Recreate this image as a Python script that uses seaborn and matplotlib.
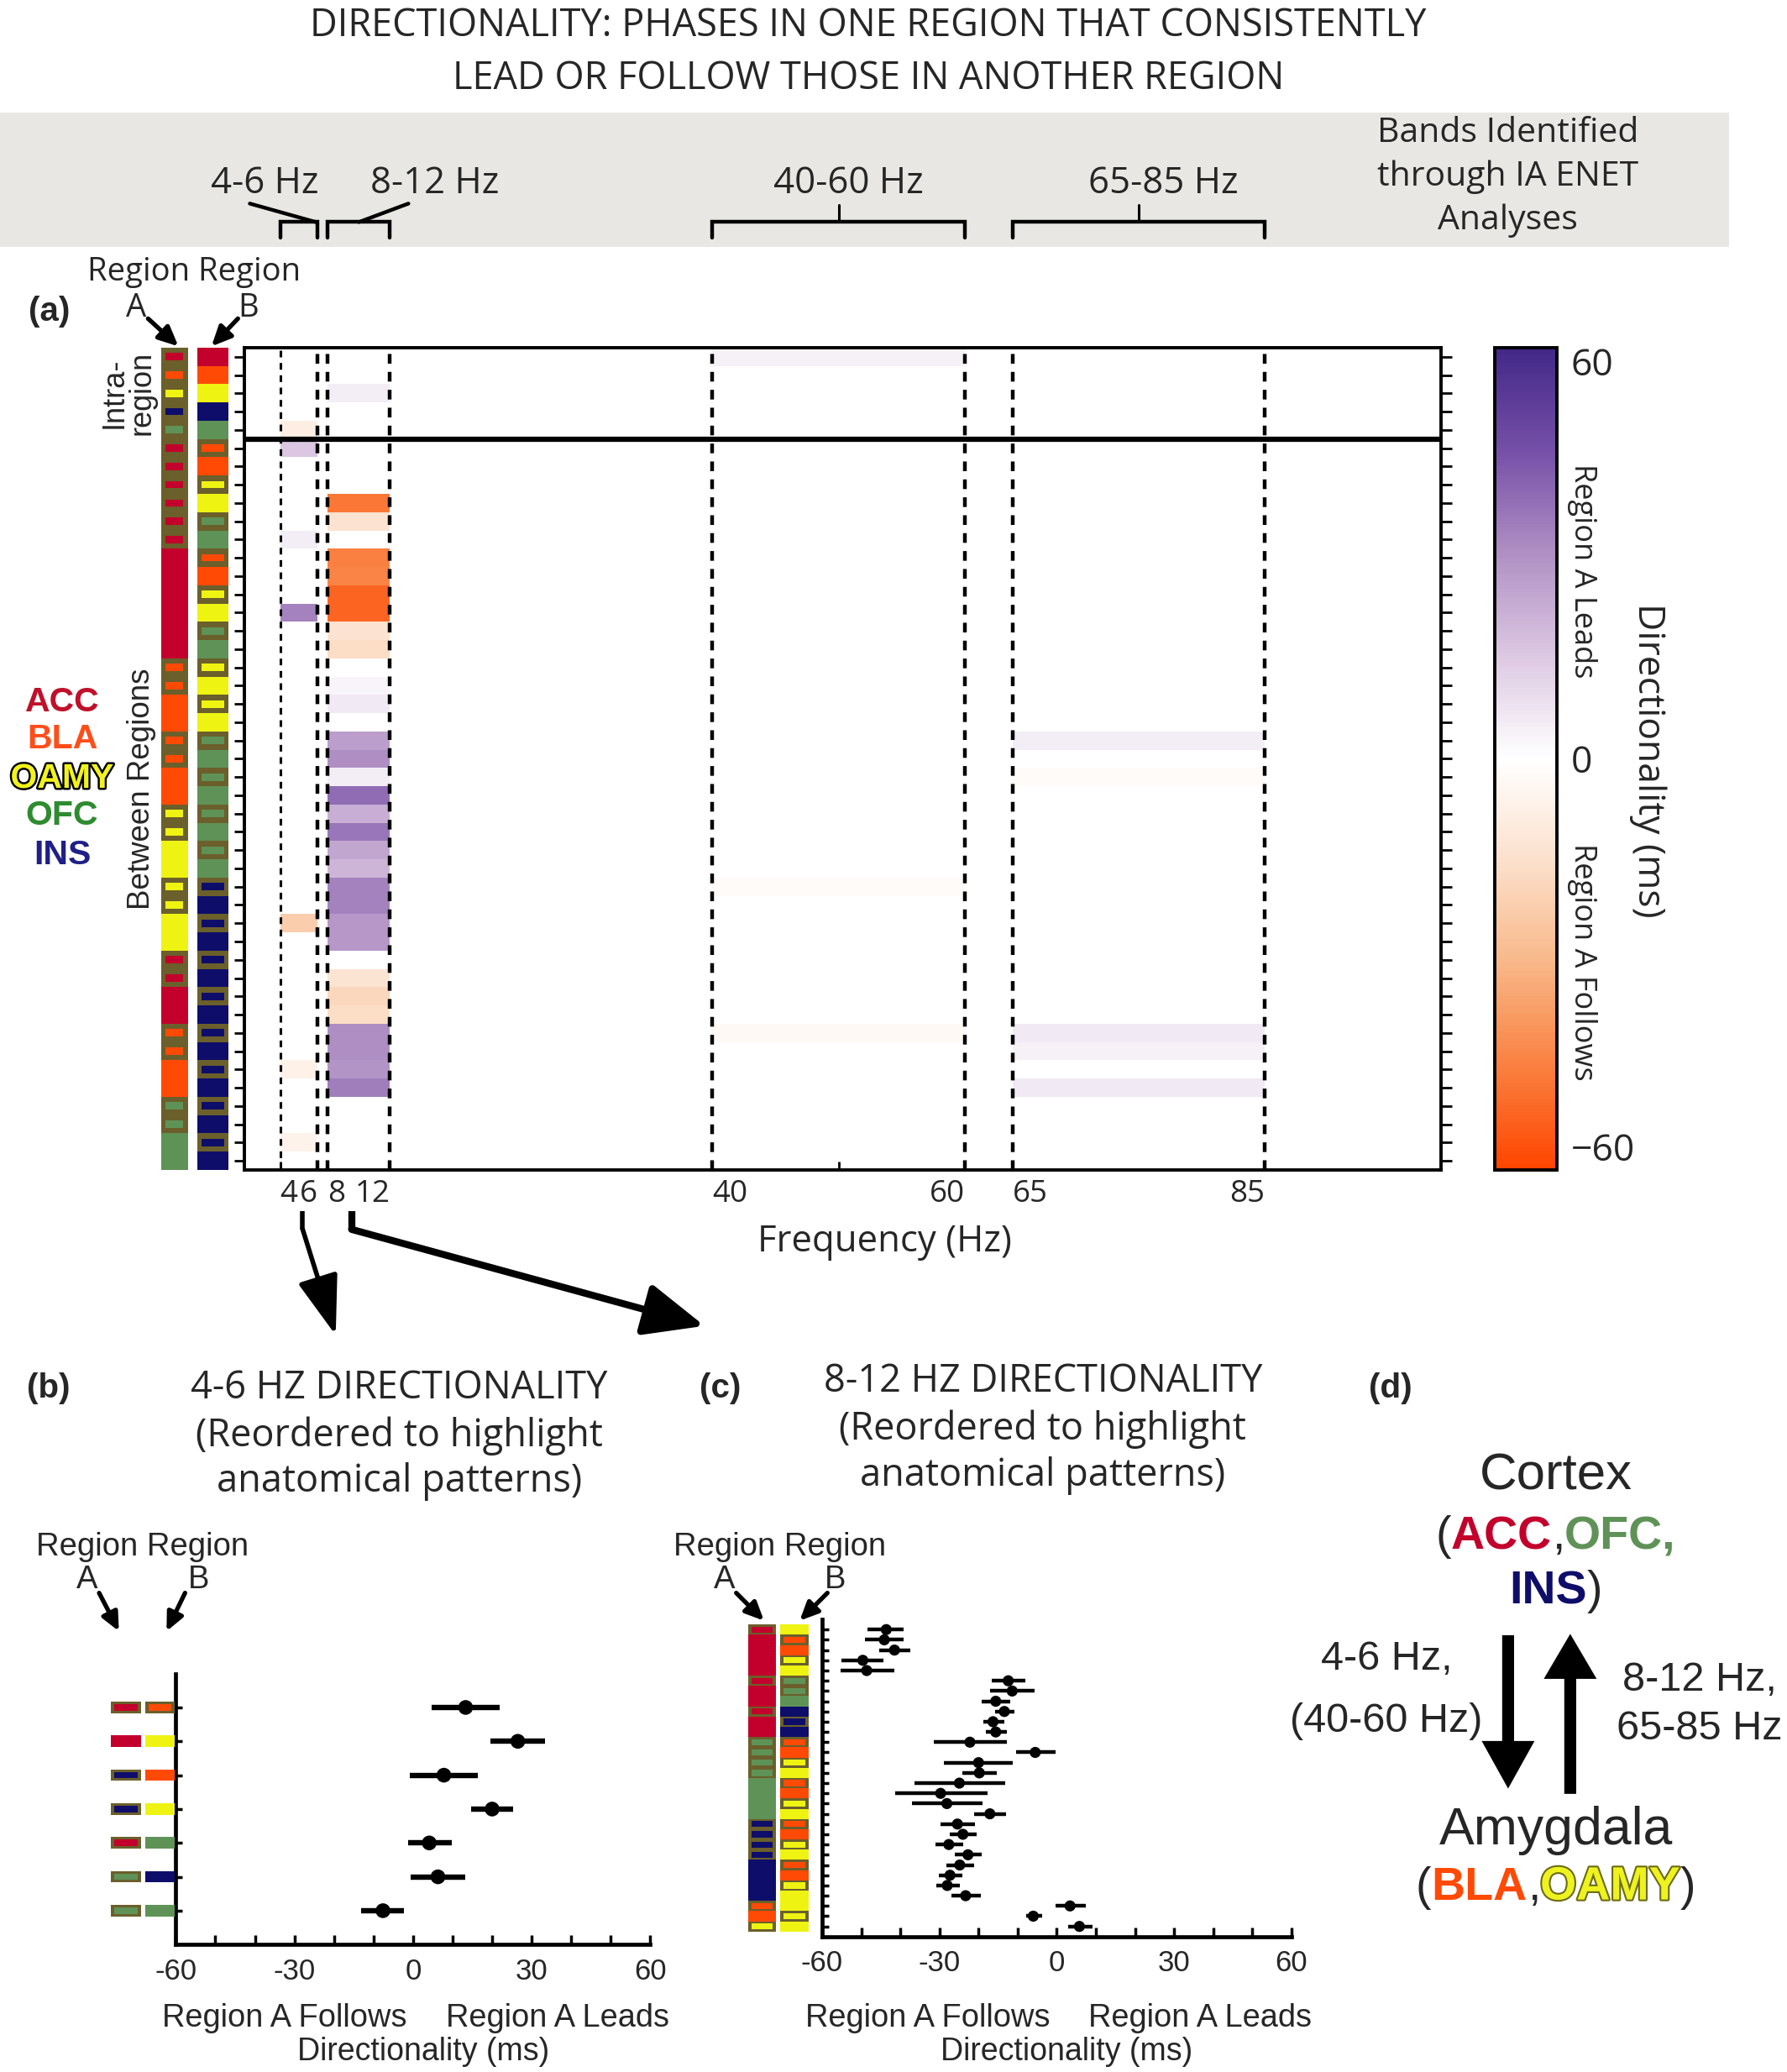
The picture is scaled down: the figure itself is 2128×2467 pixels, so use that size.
import numpy as np
import pandas as pd
import matplotlib
matplotlib.use("Agg")
import matplotlib.pyplot as plt
import seaborn as sns
from matplotlib.colors import LinearSegmentedColormap, Normalize
from matplotlib.cm import ScalarMappable
from matplotlib.patches import Rectangle, FancyArrowPatch, FancyArrow, ArrowStyle
import matplotlib.patheffects as pe

nan = np.nan

# ---------------------------------------------------------------- data
band_labels = ["4-6 Hz", "8-12 Hz", "40-60 Hz", "65-85 Hz"]
band_lo = [4, 8, 40, 65]
band_hi = [6, 12, 60, 85]
freq_ticks = [4, 6, 8, 12, 40, 50, 60, 65, 85]
freq_ticklabels = ["4", "6", "8", "12", "40", "", "60", "65", "85"]

# panel (a): region pairs (L = outlined box, R = solid)
pairs_a_A = ["ACC-L", "BLA-L", "OAMY-L", "INS-L", "OFC-L",
             "ACC-L", "ACC-L", "ACC-L", "ACC-L", "ACC-L", "ACC-L",
             "ACC-R", "ACC-R", "ACC-R", "ACC-R", "ACC-R", "ACC-R",
             "BLA-L", "BLA-L", "BLA-R", "BLA-R", "BLA-L", "BLA-L", "BLA-R", "BLA-R",
             "OAMY-L", "OAMY-L", "OAMY-R", "OAMY-R", "OAMY-L", "OAMY-L", "OAMY-R", "OAMY-R",
             "ACC-L", "ACC-L", "ACC-R", "ACC-R", "BLA-L", "BLA-L", "BLA-R", "BLA-R",
             "OFC-L", "OFC-L", "OFC-R", "OFC-R"]
pairs_a_B = ["ACC-R", "BLA-R", "OAMY-R", "INS-R", "OFC-R",
             "BLA-L", "BLA-R", "OAMY-L", "OAMY-R", "OFC-L", "OFC-R",
             "BLA-L", "BLA-R", "OAMY-L", "OAMY-R", "OFC-L", "OFC-R",
             "OAMY-L", "OAMY-R", "OAMY-L", "OAMY-R",
             "OFC-L", "OFC-R", "OFC-L", "OFC-R", "OFC-L", "OFC-R", "OFC-L", "OFC-R",
             "INS-L", "INS-R", "INS-L", "INS-R", "INS-L", "INS-R", "INS-L", "INS-R",
             "INS-L", "INS-R", "INS-L", "INS-R", "INS-L", "INS-R", "INS-L", "INS-R"]
n_intra = 5

# directionality (ms) per row, per band
dir_4_6 = [nan, nan, nan, nan, -8, 15, nan, nan, nan, nan,
           5, nan, nan, nan, 33, nan, nan, nan, nan, nan,
           nan, nan, nan, nan, nan, nan, nan, nan, nan, nan,
           nan, -22, nan, nan, nan, nan, nan, nan, nan, -7,
           nan, nan, nan, -6, nan]
dir_8_12 = [nan, nan, 5, nan, nan, nan, nan, nan, -47, -14,
            nan, -45, -44, -52, -52, -14, -16, nan, 3, 6,
            nan, 26, 30, 5, 38, 22, 36, 24, 20, 33,
            33, 28, 28, nan, -13, -18, -16, 30, 30, 29,
            34, nan, nan, nan, nan]
dir_40_60 = [4, nan, nan, nan, nan, nan, nan, nan, nan, nan,
             nan, nan, nan, nan, nan, nan, nan, nan, nan, nan,
             nan, nan, nan, nan, nan, nan, nan, nan, nan, -2,
             nan, nan, nan, nan, nan, nan, nan, -3, nan, nan,
             nan, nan, nan, nan, nan]
dir_65_85 = [nan, nan, nan, nan, nan, nan, nan, nan, nan, nan,
             nan, nan, nan, nan, nan, nan, nan, nan, nan, nan,
             nan, 5, nan, -2, nan, nan, nan, nan, nan, nan,
             nan, nan, nan, nan, nan, nan, nan, 6, 4, nan,
             6, nan, nan, nan, nan]
band_values = [dir_4_6, dir_8_12, dir_40_60, dir_65_85]

# panel (b): 4-6 Hz
b_A = ["ACC-L", "ACC-R", "INS-L", "INS-L", "ACC-L", "OFC-L", "OFC-L"]
b_B = ["BLA-L", "OAMY-R", "BLA-R", "OAMY-R", "OFC-R", "INS-R", "OFC-R"]
b_mean = [13.3, 26.5, 7.8, 20.0, 4.1, 6.3, -7.6]
b_lo = [4.7, 19.6, -0.8, 14.6, -1.2, -0.7, -13.1]
b_hi = [22.0, 33.4, 16.3, 25.4, 9.7, 13.3, -2.3]

# panel (c): 8-12 Hz
c_A = ["ACC-L", "ACC-R", "ACC-R", "ACC-R", "ACC-R", "ACC-L", "ACC-R", "ACC-R",
       "ACC-L", "ACC-R", "ACC-R", "OFC-L", "OFC-L", "OFC-L", "OFC-L", "OFC-R",
       "OFC-R", "OFC-R", "OFC-R", "INS-L", "INS-L", "INS-L", "INS-L", "INS-R",
       "INS-R", "INS-R", "INS-R", "BLA-L", "BLA-R", "OAMY-L"]
c_B = ["OAMY-R", "BLA-L", "BLA-R", "OAMY-L", "OAMY-R", "OFC-L", "OFC-L", "OFC-R",
       "INS-R", "INS-L", "INS-R", "BLA-L", "BLA-R", "OAMY-L", "OAMY-R", "BLA-L",
       "BLA-R", "OAMY-L", "OAMY-R", "BLA-L", "BLA-R", "OAMY-L", "OAMY-R", "BLA-L",
       "BLA-R", "OAMY-L", "OAMY-R", "OAMY-R", "OAMY-L", "OAMY-R"]
c_mean = [-43.6, -44.1, -41.5, -49.6, -48.6, -12.4, -11.4, -15.6, -13.4, -16.3,
          -15.6, -22.2, -5.5, -20.0, -19.8, -24.9, -29.7, -28.1, -17.1, -25.4,
          -24.0, -27.6, -22.7, -24.8, -27.3, -28.0, -23.3, 3.4, -6.0, 5.8]
c_lo = [-48.3, -49.0, -45.4, -55.0, -55.3, -16.6, -17.1, -19.1, -15.7, -18.8,
        -18.1, -31.5, -10.4, -28.9, -24.2, -36.3, -41.4, -37.1, -21.2, -29.8,
        -27.4, -31.1, -26.1, -28.3, -30.1, -30.7, -26.9, -0.3, -7.8, 2.9]
c_hi = [-39.2, -39.2, -37.5, -44.3, -41.6, -8.0, -5.6, -11.9, -10.9, -13.5,
        -12.7, -12.7, -0.3, -11.3, -15.4, -13.2, -17.8, -18.9, -12.9, -20.9,
        -20.4, -24.0, -19.2, -21.1, -24.1, -24.7, -19.4, 7.5, -3.8, 9.1]

dir_ticks = [-60, -30, 0, 30, 60]
dir_ticklabels = ["-60", "-30", "0", "30", "60"]
cbar_ticks = [-60, -30, 0, 30, 60]
cbar_ticklabels = ["\u221260", "", "0", "", "60"]
legend_regions = ["ACC", "BLA", "OAMY", "OFC", "INS"]

# ---------------------------------------------------------------- style
sns.set_theme(style="white")
plt.rcParams["font.family"] = ["Open Sans", "DejaVu Sans"]
ARIAL = ["Liberation Sans", "DejaVu Sans"]

REGION_COLORS = {"ACC": "#C2002B", "BLA": "#FF4A06", "OAMY": "#EEF312",
                 "OFC": "#5F9257", "INS": "#0E0E6A"}
TEXT_COLORS = {"ACC": "#C0102A", "BLA": "#FF4D1A", "OAMY": "#F2F21E",
               "OFC": "#2E8B30", "INS": "#1F1F88"}
OLIVE = "#6B5F2B"
cmap = LinearSegmentedColormap.from_list(
    "dir", [(0.0, "#FF4500"), (0.125, "#F98040"), (0.25, "#F8B788"), (0.375, "#FCE0CC"),
            (0.5, "#FFFFFF"), (0.625, "#DCC8E2"), (0.75, "#B090C4"), (0.875, "#7650A8"),
            (1.0, "#432888")])
norm = Normalize(-60, 60)

W, H = 1352.0, 1567.4
fig = plt.figure(figsize=(21.28, 24.67), dpi=100)


def box(x0, y0, x1, y1):
    return [x0 / W, 1 - y1 / H, (x1 - x0) / W, (y1 - y0) / H]


def draw_strip(ax, codes, height, ix, iy):
    for y, code in enumerate(codes, start=1):
        region, side = code.split("-")
        col = REGION_COLORS[region]
        if side == "L":
            ax.add_patch(Rectangle((0, y - height / 2), 1, height, fc=OLIVE, ec="none"))
            ax.add_patch(Rectangle((ix, y - height / 2 + height * iy), 1 - 2 * ix,
                                   height * (1 - 2 * iy), fc=col, ec="none"))
        else:
            ax.add_patch(Rectangle((0, y - height / 2), 1, height, fc=col, ec="none"))
    ax.set_xlim(0, 1)
    ax.set_facecolor("none")
    ax.axis("off")


# overlay canvas in reference pixel units
ov = fig.add_axes([0, 0, 1, 1], zorder=-10)
ov.set_xlim(0, W)
ov.set_ylim(H, 0)
ov.axis("off")

# ---------------------------------------------------------------- panel (a)
knots_hz = [1, 4, 6, 8, 12, 40, 60, 65, 85, 100]
knots_px = [185, 212, 240, 248, 295, 539, 730, 766, 957, 1090]


def fwd(x):
    return np.interp(x, knots_hz, knots_px)


def inv(y):
    return np.interp(y, knots_px, knots_hz)


n_rows = len(pairs_a_A)
ax_a = fig.add_axes(box(185, 263, 1090, 885))
ax_a.set_xscale("function", functions=(fwd, inv))
ax_a.set_xlim(1, 100)
ax_a.set_ylim(n_rows + 0.5, 0.5)
for lo, hi, vals in zip(band_lo, band_hi, band_values):
    C = np.ma.masked_invalid(np.array(vals, float)).reshape(-1, 1)
    ax_a.pcolormesh([lo, hi], np.arange(0.5, n_rows + 1), C, cmap=cmap, norm=norm,
                    shading="flat", zorder=1)
for f in band_lo + band_hi:
    ax_a.axvline(f, color="black", lw=2.2 if f == 4 else 3.2,
                 ls=(0, (2.6, 2.2)), zorder=2)
ax_a.axhline(n_intra + 0.5, color="black", lw=4.5, zorder=3)
for s in ax_a.spines.values():
    s.set_visible(True)
    s.set_color("black")
    s.set_linewidth(2.8)
ax_a.set_yticks(np.arange(1, n_rows + 1))
ax_a.set_yticklabels([])
ax_a.tick_params(axis="y", which="both", left=True, right=True, direction="out",
                 length=9, width=2, color="black")
ax_a.set_xticks(freq_ticks)
ax_a.set_xticklabels(freq_ticklabels)
ax_a.xaxis.set_minor_locator(matplotlib.ticker.NullLocator())
ax_a.tick_params(axis="x", which="both", bottom=True, top=False, direction="in",
                 length=7, width=2, color="black", labelsize=26.5, pad=8)
for lab, t in zip(ax_a.get_xticklabels(), freq_ticks):
    lab.set_ha("left" if t in band_lo else "right")
ax_a.set_xlabel("Frequency (Hz)", fontsize=31.5, labelpad=12, x=(669 - 185) / 905)

# region strips
ax_sA = fig.add_axes(box(122, 263, 142, 885))
ax_sA.set_ylim(n_rows + 0.5, 0.5)
draw_strip(ax_sA, pairs_a_A, 1.0, 0.17, 0.3)
ax_sB = fig.add_axes(box(149, 263, 173, 885))
ax_sB.set_ylim(n_rows + 0.5, 0.5)
draw_strip(ax_sB, pairs_a_B, 1.0, 0.15, 0.3)

# colorbar
cax = fig.add_axes(box(1131, 263, 1178, 885))
cb = fig.colorbar(ScalarMappable(norm=norm, cmap=cmap), cax=cax)
cb.outline.set_linewidth(2.8)
cb.outline.set_edgecolor("black")
cax.set_yticks(cbar_ticks)
cax.set_yticklabels(cbar_ticklabels)
cax.tick_params(axis="y", left=True, right=True, direction="in", length=9, width=2,
                color="black", labelleft=False, labelright=True, labelsize=32, pad=12)
for lab, t in zip(cax.get_yticklabels(), cbar_ticks):
    if t == 60:
        lab.set_va("top")
    elif t == -60:
        lab.set_va("bottom")
ov.text(1197, 432, "Region A Leads", rotation=270, ha="center", va="center", fontsize=26)
ov.text(1197, 728, "Region A Follows", rotation=270, ha="center", va="center", fontsize=26)
ov.text(1247, 575, "Directionality (ms)", rotation=270, ha="center", va="center", fontsize=32)

# ---------------------------------------------------------------- header
ov.text(657, 20, "DIRECTIONALITY: PHASES IN ONE REGION THAT CONSISTENTLY",
        ha="center", va="center", fontsize=32.5)
ov.text(657, 60, "LEAD OR FOLLOW THOSE IN ANOTHER REGION", ha="center", va="center",
        fontsize=32.5)
ov.add_patch(Rectangle((0, 85), 1308, 102, fc="#E8E7E3", ec="none"))
for yy, s in zip([101, 134, 167], ["Bands Identified", "through IA ENET", "Analyses"]):
    ov.text(1141, yy, s, ha="center", va="center", fontsize=29.5)


def hz_to_px(hz):
    d = ax_a.transData.transform((hz, 1))
    return ov.transData.inverted().transform(d)[0]


label_x = [200, 329, 642, 880]
for lab, lo, hi, lx in zip(band_labels, band_lo, band_hi, label_x):
    x0, x1 = hz_to_px(lo), hz_to_px(hi)
    ov.plot([x0, x0, x1, x1], [180, 168, 168, 180], color="black", lw=3.2,
            solid_joinstyle="miter")
    ov.text(lx, 139, lab, ha="center", va="center", fontsize=31.5)
    if hi - lo >= 20:
        xm = hz_to_px((lo + hi) / 2)
        ov.plot([xm, xm], [168, 155], color="black", lw=2.2)
    elif lo == 4:
        ov.plot([189, x1 - 1], [154, 168], color="black", lw=3.2)
    else:
        ov.plot([309, (x0 + x1) / 2], [154, 168], color="black", lw=3.2)

# left labels of (a)
ov.text(37, 236, "(a)", ha="center", va="center", fontsize=29, fontweight="bold", family=ARIAL)
ov.text(147, 206, "Region Region", ha="center", va="center", fontsize=27.5)
ov.text(103, 233, "A", ha="center", va="center", fontsize=27.5)
ov.text(188, 233, "B", ha="center", va="center", fontsize=27.5)


def arrow(x0, y0, x1, y1, lw, hl, hw):
    ov.add_patch(FancyArrowPatch((x0, y0), (x1, y1),
                                 arrowstyle=ArrowStyle("-|>", head_length=hl, head_width=hw),
                                 mutation_scale=1, lw=lw, color="black",
                                 shrinkA=0, shrinkB=0))


arrow(112, 241, 135, 262, 3.8, 14, 6.5)
arrow(180, 241, 160, 262, 3.8, 14, 6.5)
ov.text(97, 297, "Intra-\nregion", rotation=90, ha="center", va="center", fontsize=26,
        linespacing=0.95, family=ARIAL)
ov.text(107, 597, "Between Regions", rotation=90, ha="center", va="center", fontsize=26.5,
        family=ARIAL)
for yy, r in zip([531, 559, 589, 617, 647], legend_regions):
    kw = {}
    if r == "OAMY":
        kw["path_effects"] = [pe.Stroke(linewidth=3.5, foreground="black"), pe.Normal()]
    ov.text(47, yy, r, ha="center", va="center", fontsize=29.5, fontweight="bold",
            color=TEXT_COLORS[r], family=ARIAL, **kw)

# arrows from x axis to panels
ov.plot([229, 229], [916, 930], color="black", lw=4, solid_capstyle="butt")
arrow(229, 930, 254, 1010, 4, 44, 15)
ov.plot([266, 266], [916, 930], color="black", lw=6, solid_capstyle="butt")
arrow(266, 930, 533, 1003, 6, 44, 19)

# ---------------------------------------------------------------- panels (b) & (c)


def dir_panel(rect, strip_rects, codes_A, codes_B, mean, lo, hi, ms, elw, sh, ix, iy):
    ax = fig.add_axes(rect)
    n = len(mean)
    df = pd.DataFrame({"row": np.arange(1, n + 1), "mean": mean, "lo": lo, "hi": hi})
    ax.hlines(df["row"], df["lo"], df["hi"], color="black", lw=elw, zorder=2)
    sns.scatterplot(data=df, x="mean", y="row", ax=ax, color="black", s=ms,
                    edgecolor="none", zorder=3, legend=False)
    ax.set_xlim(-60, 60)
    ax.set_ylim(n + 1, 0)
    sns.despine(ax=ax)
    for s in ["left", "bottom"]:
        ax.spines[s].set_color("black")
        ax.spines[s].set_linewidth(3.4)
    ax.set_xticks(np.arange(-60, 61, 10), minor=True)
    ax.set_xticks(dir_ticks)
    ax.set_xticklabels(dir_ticklabels, family=ARIAL)
    ax.set_yticks(np.arange(1, n + 1))
    ax.set_yticklabels([])
    ax.tick_params(axis="x", which="both", bottom=True, direction="in", length=8,
                   width=2.5, color="black", labelsize=25, pad=11)
    ax.tick_params(axis="y", left=True, direction="in", length=6, width=2.5, color="black")
    ax.set_xlabel("")
    ax.set_ylabel("")
    for rr, codes in zip(strip_rects, [codes_A, codes_B]):
        sa = fig.add_axes(rr)
        sa.set_ylim(n + 1, 0)
        draw_strip(sa, codes, sh, ix, iy)
    return ax


ax_b = dir_panel(box(133, 1266, 492, 1471),
                 [box(84, 1266, 107, 1471), box(110, 1266, 132, 1471)],
                 b_A, b_B, b_mean, b_lo, b_hi, 160, 4.6, 0.34, 0.11, 0.22)
ax_c = dir_panel(box(622, 1225, 977, 1465),
                 [box(566, 1225, 587, 1465), box(590, 1225, 612, 1465)],
                 c_A, c_B, c_mean, c_lo, c_hi, 90, 3.2, 1.0, 0.12, 0.2)

# panel titles and labels (b)
ov.text(37, 1050, "(b)", ha="center", va="center", fontsize=29, fontweight="bold", family=ARIAL)
for yy, s in zip([1050, 1086, 1121], ["4-6 HZ DIRECTIONALITY", "(Reordered to highlight",
                                       "anatomical patterns)"]):
    ov.text(302, yy, s, ha="center", va="center", fontsize=32.5)
ov.text(108, 1170, "Region Region", ha="center", va="center", fontsize=27.5, family=ARIAL)
ov.text(66, 1195, "A", ha="center", va="center", fontsize=27.5, family=ARIAL)
ov.text(150, 1195, "B", ha="center", va="center", fontsize=27.5, family=ARIAL)
arrow(75, 1205, 90, 1234, 3.8, 13, 6)
arrow(140, 1205, 126, 1234, 3.8, 13, 6)
ov.text(215, 1527, "Region A Follows", ha="center", va="center", fontsize=27.4, family=ARIAL)
ov.text(422, 1527, "Region A Leads", ha="center", va="center", fontsize=27.4, family=ARIAL)
ov.text(320, 1552, "Directionality (ms)", ha="center", va="center", fontsize=27, family=ARIAL)

# (c)
ov.text(545, 1050, "(c)", ha="center", va="center", fontsize=29, fontweight="bold", family=ARIAL)
for yy, s in zip([1045, 1081, 1116], ["8-12 HZ DIRECTIONALITY", "(Reordered to highlight",
                                       "anatomical patterns)"]):
    ov.text(789, yy, s, ha="center", va="center", fontsize=32.5)
ov.text(590, 1170, "Region Region", ha="center", va="center", fontsize=27.5, family=ARIAL)
ov.text(548, 1195, "A", ha="center", va="center", fontsize=27.5, family=ARIAL)
ov.text(632, 1195, "B", ha="center", va="center", fontsize=27.5, family=ARIAL)
arrow(557, 1205, 578, 1226, 3.8, 13, 6)
arrow(626, 1205, 605, 1226, 3.8, 13, 6)
ov.text(702, 1527, "Region A Follows", ha="center", va="center", fontsize=27.4, family=ARIAL)
ov.text(908, 1527, "Region A Leads", ha="center", va="center", fontsize=27.4, family=ARIAL)
ov.text(807, 1552, "Directionality (ms)", ha="center", va="center", fontsize=27, family=ARIAL)

# ---------------------------------------------------------------- panel (d)
renderer = fig.canvas.get_renderer()
PX = W / 2128.0


def rich(xc, y, parts, size):
    texts = []
    for s, kw in parts:
        t = ov.text(0, y, s, ha="left", va="center", fontsize=size, family=ARIAL, **kw)
        texts.append(t)
    widths = [t.get_window_extent(renderer).width * PX for t in texts]
    x = xc - sum(widths) / 2
    for t, w in zip(texts, widths):
        t.set_x(x)
        x += w


ov.text(1052, 1050, "(d)", ha="center", va="center", fontsize=29, fontweight="bold", family=ARIAL)
ov.text(1177, 1117, "Cortex", ha="center", va="center", fontsize=44.5, family=ARIAL)
rich(1177, 1163, [("(", {}), ("ACC", {"fontweight": "bold", "color": REGION_COLORS["ACC"]}),
                  (",", {}), ("OFC,", {"fontweight": "bold", "color": REGION_COLORS["OFC"]})],
     40)
rich(1177, 1204, [("INS", {"fontweight": "bold", "color": REGION_COLORS["INS"]}), (")", {})], 40)
ov.add_patch(FancyArrow(1141, 1237, 0, 116, width=9, head_width=40, head_length=36,
                        length_includes_head=True, fc="black", ec="none"))
ov.add_patch(FancyArrow(1188, 1357, 0, -121, width=9, head_width=40, head_length=34,
                        length_includes_head=True, fc="black", ec="none"))
ov.text(1049, 1255, "4-6 Hz,", ha="center", va="center", fontsize=35, family=ARIAL)
ov.text(1049, 1302, "(40-60 Hz)", ha="center", va="center", fontsize=35, family=ARIAL)
ov.text(1286, 1271, "8-12 Hz,", ha="center", va="center", fontsize=35, family=ARIAL)
ov.text(1286, 1308, "65-85 Hz", ha="center", va="center", fontsize=35, family=ARIAL)
ov.text(1177, 1385, "Amygdala", ha="center", va="center", fontsize=45, family=ARIAL)
rich(1177, 1428, [("(", {}), ("BLA", {"fontweight": "bold", "color": REGION_COLORS["BLA"]}),
                  (",", {}),
                  ("OAMY", {"fontweight": "bold", "color": "#EEF320",
                            "path_effects": [pe.Stroke(linewidth=3, foreground="#6B6B12"),
                                             pe.Normal()]}),
                  (")", {})], 40)

fig.savefig("out.png", dpi=100)
